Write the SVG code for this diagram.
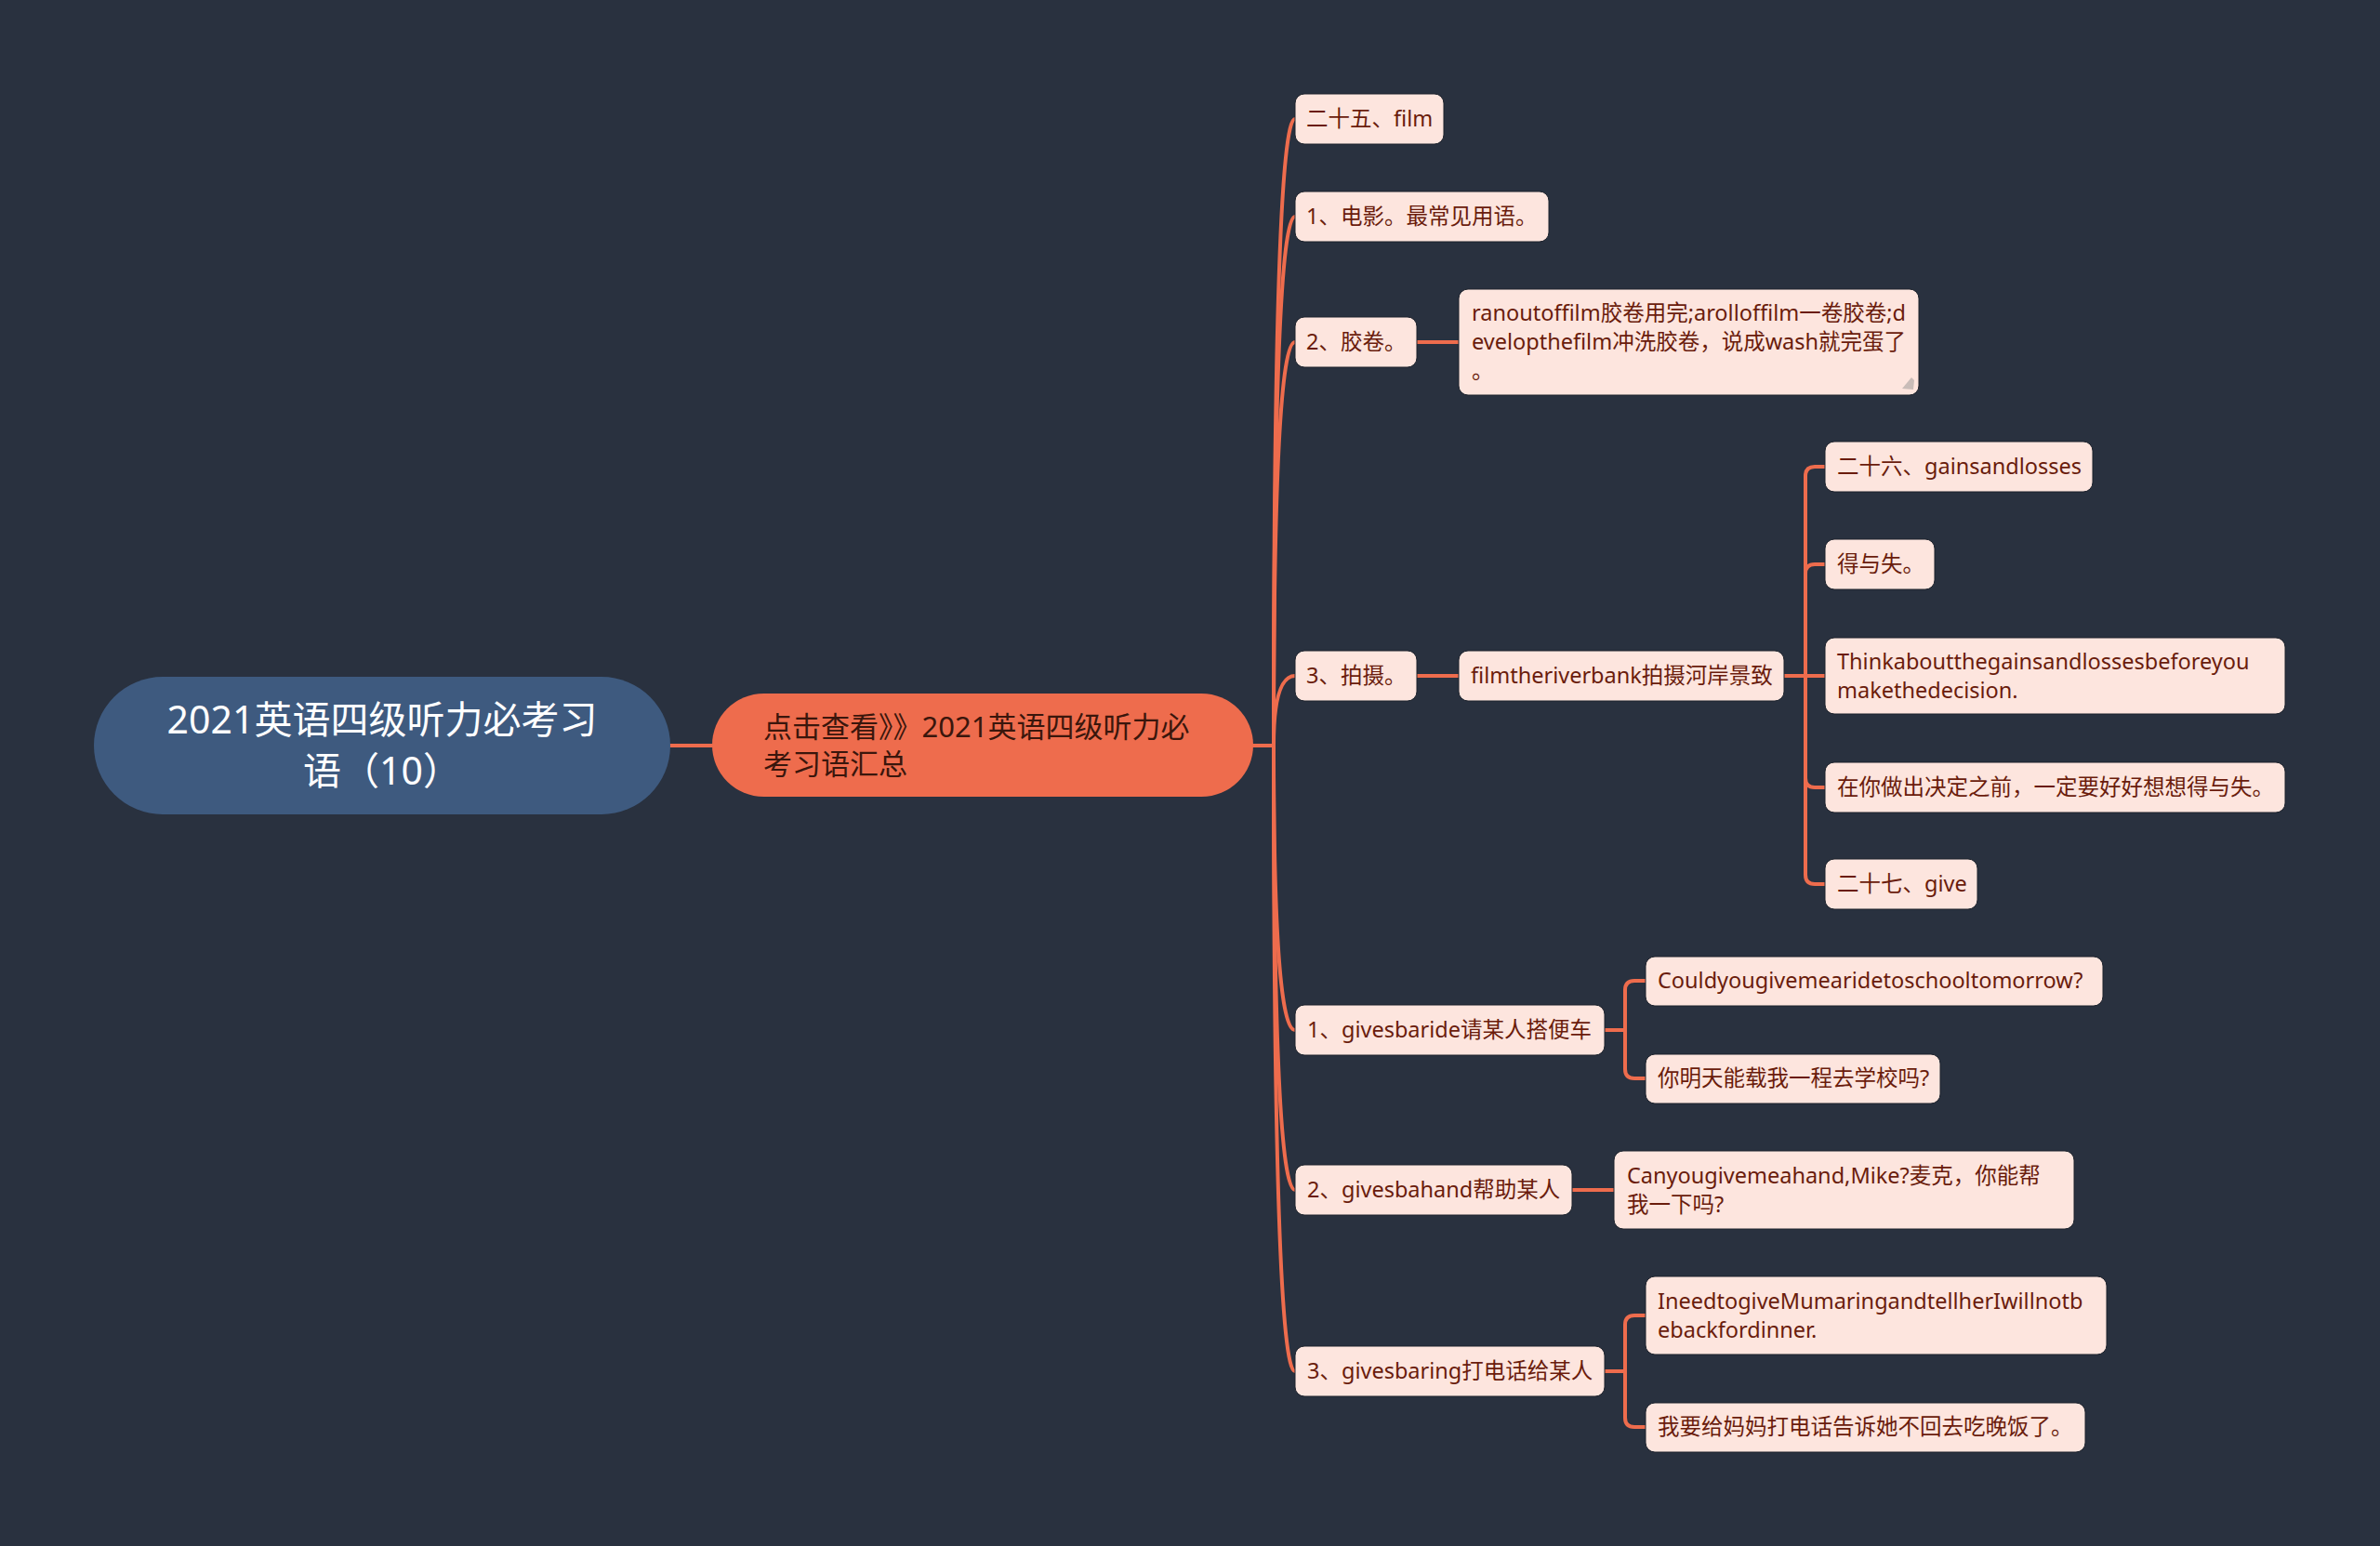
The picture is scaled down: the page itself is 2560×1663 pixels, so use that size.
<svg xmlns="http://www.w3.org/2000/svg" width="2560" height="1663" viewBox="0 0 2560 1663">
<style>
  .bg{fill:#29313f}
  .ln{fill:none;stroke:#ee6c4d;stroke-width:4;stroke-linecap:round;stroke-linejoin:round}
  .leaf rect{fill:#fde5de;stroke:#1c222c;stroke-width:1}
  .leaf text{font-family:"Noto Sans","Noto Sans CJK SC",sans-serif;font-size:23.5px;fill:#6a1c0c}
  .root rect{fill:#3e5a7f}
  .root text{font-family:"Noto Sans","Noto Sans CJK SC",sans-serif;font-size:41px;fill:#ffffff;text-anchor:middle}
  .main rect{fill:#ee6c4d}
  .main text{font-family:"Noto Sans","Noto Sans CJK SC",sans-serif;font-size:31px;fill:#3a160c}
</style>
<rect class="bg" x="0" y="0" width="2560" height="1663"/>

<g id="connectors">
  <path class="ln" d="M721 802 H766"/>
  <path class="ln" d="M1348 802 H1370 Q1370 128 1393 128"/>
  <path class="ln" d="M1348 802 H1370 Q1370 233 1393 233"/>
  <path class="ln" d="M1348 802 H1370 Q1370 368 1393 368"/>
  <path class="ln" d="M1348 802 H1370 Q1370 727 1393 727"/>
  <path class="ln" d="M1348 802 H1370 Q1370 1108 1393 1108"/>
  <path class="ln" d="M1348 802 H1370 Q1370 1280 1393 1280"/>
  <path class="ln" d="M1348 802 H1370 Q1370 1475 1393 1475"/>
  <path class="ln" d="M1524 368 H1569"/>
  <path class="ln" d="M1524 727 H1569"/>
  <path class="ln" d="M1919 727 H1942 V512 Q1942 502 1952 502 H1963"/>
  <path class="ln" d="M1919 727 H1942 V617 Q1942 607 1952 607 H1963"/>
  <path class="ln" d="M1919 727 H1963"/>
  <path class="ln" d="M1919 727 H1942 V837 Q1942 847 1952 847 H1963"/>
  <path class="ln" d="M1919 727 H1942 V941 Q1942 951 1952 951 H1963"/>
  <path class="ln" d="M1726 1108 H1748 V1065 Q1748 1055 1758 1055 H1770"/>
  <path class="ln" d="M1726 1108 H1748 V1150 Q1748 1160 1758 1160 H1770"/>
  <path class="ln" d="M1691 1280 H1736"/>
  <path class="ln" d="M1726 1475 H1748 V1425 Q1748 1415 1758 1415 H1770"/>
  <path class="ln" d="M1726 1475 H1748 V1525 Q1748 1535 1758 1535 H1770"/>
</g>

<g id="root" class="root">
  <rect x="101" y="728" width="620" height="148" rx="74"/>
  <text x="411" y="789">2021英语四级听力必考习</text>
  <text x="411" y="844">语（10）</text>
</g>

<g id="main" class="main">
  <rect x="766" y="746" width="582" height="111" rx="55.5"/>
  <text x="821" y="793">点击查看》》2021英语四级听力必</text>
  <text x="821" y="833">考习语汇总</text>
</g>

<g id="n-film" class="leaf">
  <rect x="1393" y="101" width="160" height="54" rx="10"/>
  <text x="1405" y="136">二十五、film</text>
</g>
<g id="n-movie" class="leaf">
  <rect x="1393" y="206" width="273" height="54" rx="10"/>
  <text x="1405" y="241">1、电影。最常见用语。</text>
</g>
<g id="n-roll" class="leaf">
  <rect x="1393" y="341" width="131" height="54" rx="10"/>
  <text x="1405" y="376">2、胶卷。</text>
</g>
<g id="n-roll-desc" class="leaf">
  <rect x="1569" y="311" width="495" height="114" rx="10"/>
  <text x="1583" y="345">ranoutoffilm胶卷用完;arolloffilm一卷胶卷;d</text>
  <text x="1583" y="376">evelopthefilm冲洗胶卷，说成wash就完蛋了</text>
  <text x="1583" y="407">。</text>
  <path d="M2046 418 L2056 406 L2059 409 L2058 419 Z" fill="#c9bcb8"/>
</g>
<g id="n-shoot" class="leaf">
  <rect x="1393" y="700" width="131" height="54" rx="10"/>
  <text x="1405" y="735">3、拍摄。</text>
</g>
<g id="n-riverbank" class="leaf">
  <rect x="1569" y="700" width="350" height="54" rx="10"/>
  <text x="1582" y="735">filmtheriverbank拍摄河岸景致</text>
</g>
<g id="n-gains" class="leaf">
  <rect x="1963" y="475" width="288" height="54" rx="10"/>
  <text x="1976" y="510">二十六、gainsandlosses</text>
</g>
<g id="n-gains-cn" class="leaf">
  <rect x="1963" y="580" width="118" height="54" rx="10"/>
  <text x="1976" y="615">得与失。</text>
</g>
<g id="n-think" class="leaf">
  <rect x="1963" y="686" width="495" height="82" rx="10"/>
  <text x="1976" y="720">Thinkaboutthegainsandlossesbeforeyou</text>
  <text x="1976" y="751">makethedecision.</text>
</g>
<g id="n-think-cn" class="leaf">
  <rect x="1963" y="820" width="495" height="54" rx="10"/>
  <text x="1976" y="855">在你做出决定之前，一定要好好想想得与失。</text>
</g>
<g id="n-give" class="leaf">
  <rect x="1963" y="924" width="164" height="54" rx="10"/>
  <text x="1976" y="959">二十七、give</text>
</g>
<g id="n-ride" class="leaf">
  <rect x="1393" y="1081" width="333" height="54" rx="10"/>
  <text x="1406" y="1116">1、givesbaride请某人搭便车</text>
</g>
<g id="n-ride-en" class="leaf">
  <rect x="1770" y="1029" width="492" height="53" rx="10"/>
  <text x="1783" y="1063">Couldyougivemearidetoschooltomorrow?</text>
</g>
<g id="n-ride-cn" class="leaf">
  <rect x="1770" y="1134" width="317" height="53" rx="10"/>
  <text x="1783" y="1168">你明天能载我一程去学校吗?</text>
</g>
<g id="n-hand" class="leaf">
  <rect x="1393" y="1253" width="298" height="54" rx="10"/>
  <text x="1406" y="1288">2、givesbahand帮助某人</text>
</g>
<g id="n-hand-ex" class="leaf">
  <rect x="1736" y="1238" width="495" height="84" rx="10"/>
  <text x="1750" y="1273">Canyougivemeahand,Mike?麦克，你能帮</text>
  <text x="1750" y="1304">我一下吗?</text>
</g>
<g id="n-ring" class="leaf">
  <rect x="1393" y="1448" width="333" height="54" rx="10"/>
  <text x="1406" y="1483">3、givesbaring打电话给某人</text>
</g>
<g id="n-ring-en" class="leaf">
  <rect x="1770" y="1373" width="496" height="84" rx="10"/>
  <text x="1783" y="1408">IneedtogiveMumaringandtellherIwillnotb</text>
  <text x="1783" y="1439">ebackfordinner.</text>
</g>
<g id="n-ring-cn" class="leaf">
  <rect x="1770" y="1509" width="473" height="53" rx="10"/>
  <text x="1783" y="1543">我要给妈妈打电话告诉她不回去吃晚饭了。</text>
</g>
</svg>
